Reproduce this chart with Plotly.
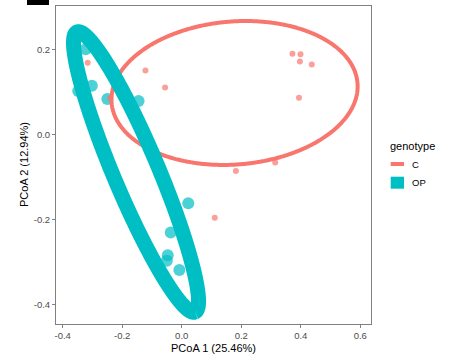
import numpy as np
import plotly.graph_objects as go

# ---------------- data ----------------
c_x = [-0.316, -0.122, -0.056, -0.241, 0.372, 0.399, 0.397, 0.437, 0.394, 0.182, 0.314, 0.111]
c_y = [0.168, 0.150, 0.110, 0.085, 0.189, 0.188, 0.171, 0.164, 0.086, -0.086, -0.066, -0.196]

op_x = [-0.323, -0.342, -0.348, -0.302, -0.250, -0.145, 0.022, -0.037, -0.047, -0.050, -0.008]
op_y = [0.200, 0.137, 0.102, 0.114, 0.083, 0.078, -0.162, -0.231, -0.284, -0.297, -0.319]

# ellipse parameters (center, major half-vector, minor half-vector) in data units
c_ell_center = (0.1775, 0.0971)
c_ell_u = (0.4131, 0.0232)
c_ell_v = (0.0193, -0.1675)

op_ell_center = (-0.1536, -0.0886)
op_ell_u = (0.1983, -0.329)
op_ell_v = (-0.0694, -0.0203)

x_ticks = [-0.4, -0.2, 0.0, 0.2, 0.4, 0.6]
x_ticktext = ["-0.4", "-0.2", "0.0", "0.2", "0.4", "0.6"]
y_ticks = [-0.4, -0.2, 0.0, 0.2]
y_ticktext = ["-0.4", "-0.2", "0.0", "0.2"]

groups = ["C", "OP"]
colors = {"C": "#F8766D", "OP": "#00BFC4"}

x_title = "PCoA 1 (25.46%)"
y_title = "PCoA 2 (12.94%)"
legend_title = "genotype"

# ---------------- layout geometry (pixels) ----------------
W, H = 453, 358
L, R, T, B = 56, 371, 6, 324


def ellipse(center, u, v, n=720):
    t = np.linspace(0, 2 * np.pi, n)
    x = center[0] + np.cos(t) * u[0] + np.sin(t) * v[0]
    y = center[1] + np.cos(t) * u[1] + np.sin(t) * v[1]
    return x, y


def px(xp):
    return (xp - L) / (R - L)


def py(yp):
    return (B - yp) / (B - T)


fig = go.Figure()

fig.add_trace(go.Scatter(x=op_x, y=op_y, mode="markers", showlegend=False,
                         marker=dict(size=12, color=colors["OP"], opacity=0.7, line=dict(width=0))))
fig.add_trace(go.Scatter(x=c_x, y=c_y, mode="markers", showlegend=False,
                         marker=dict(size=6, color=colors["C"], opacity=0.7, line=dict(width=0))))

ex, ey = ellipse(c_ell_center, c_ell_u, c_ell_v)
fig.add_trace(go.Scatter(x=ex, y=ey, mode="lines", showlegend=False,
                         line=dict(color=colors["C"], width=4, simplify=False), hoverinfo="skip"))
ex, ey = ellipse(op_ell_center, op_ell_u, op_ell_v)
fig.add_trace(go.Scatter(x=ex, y=ey, mode="lines", showlegend=False,
                         line=dict(color=colors["OP"], width=15, simplify=False), hoverinfo="skip"))

font = "Arial, Liberation Sans, sans-serif"
axcol = "#808080"

fig.update_xaxes(range=[-0.4225, 0.636], tickvals=x_ticks, ticktext=x_ticktext,
                 ticks="outside", ticklen=3, tickcolor=axcol, tickwidth=1,
                 showline=True, mirror=True, linecolor=axcol, linewidth=1,
                 showgrid=False, zeroline=False,
                 tickfont=dict(family=font, size=9.5, color="#4D4D4D"))
fig.update_yaxes(range=[-0.4458, 0.3015], tickvals=y_ticks, ticktext=y_ticktext,
                 ticks="outside", ticklen=3, tickcolor=axcol, tickwidth=1,
                 showline=True, mirror=True, linecolor=axcol, linewidth=1,
                 showgrid=False, zeroline=False,
                 tickfont=dict(family=font, size=9.5, color="#4D4D4D"))

shapes = [
    # legend keys
    dict(type="rect", xref="paper", yref="paper", x0=px(390.7), x1=px(404), y0=py(166), y1=py(162),
         fillcolor=colors["C"], line=dict(width=0)),
    dict(type="rect", xref="paper", yref="paper", x0=px(390.7), x1=px(404), y0=py(188.7), y1=py(176.7),
         fillcolor=colors["OP"], line=dict(width=0)),
    # black bar at top-left
    dict(type="rect", xref="paper", yref="paper", x0=px(27), x1=px(49), y0=py(5), y1=py(0),
         fillcolor="black", line=dict(width=0)),
]

annotations = [
    dict(text=x_title, xref="paper", yref="paper", x=px((L + R) / 2), y=py(347.5),
         xanchor="center", yanchor="middle", showarrow=False,
         font=dict(family=font, size=11, color="black")),
    dict(text=y_title, xref="paper", yref="paper", x=px(24), y=py((T + B) / 2), textangle=-90,
         xanchor="center", yanchor="middle", showarrow=False,
         font=dict(family=font, size=11, color="black")),
    dict(text=legend_title, xref="paper", yref="paper", x=px(388), y=py(146),
         xanchor="left", yanchor="middle", showarrow=False,
         font=dict(family=font, size=11, color="black")),
    dict(text=groups[0], xref="paper", yref="paper", x=px(409.5), y=py(164),
         xanchor="left", yanchor="middle", showarrow=False,
         font=dict(family=font, size=9.5, color="black")),
    dict(text=groups[1], xref="paper", yref="paper", x=px(409.5), y=py(182.5),
         xanchor="left", yanchor="middle", showarrow=False,
         font=dict(family=font, size=9.5, color="black")),
]

fig.update_layout(width=W, height=H, margin=dict(l=L, r=W - R, t=T, b=H - B),
                  plot_bgcolor="white", paper_bgcolor="white", showlegend=False,
                  shapes=shapes, annotations=annotations,
                  font=dict(family=font))

fig.write_html("out.html")
